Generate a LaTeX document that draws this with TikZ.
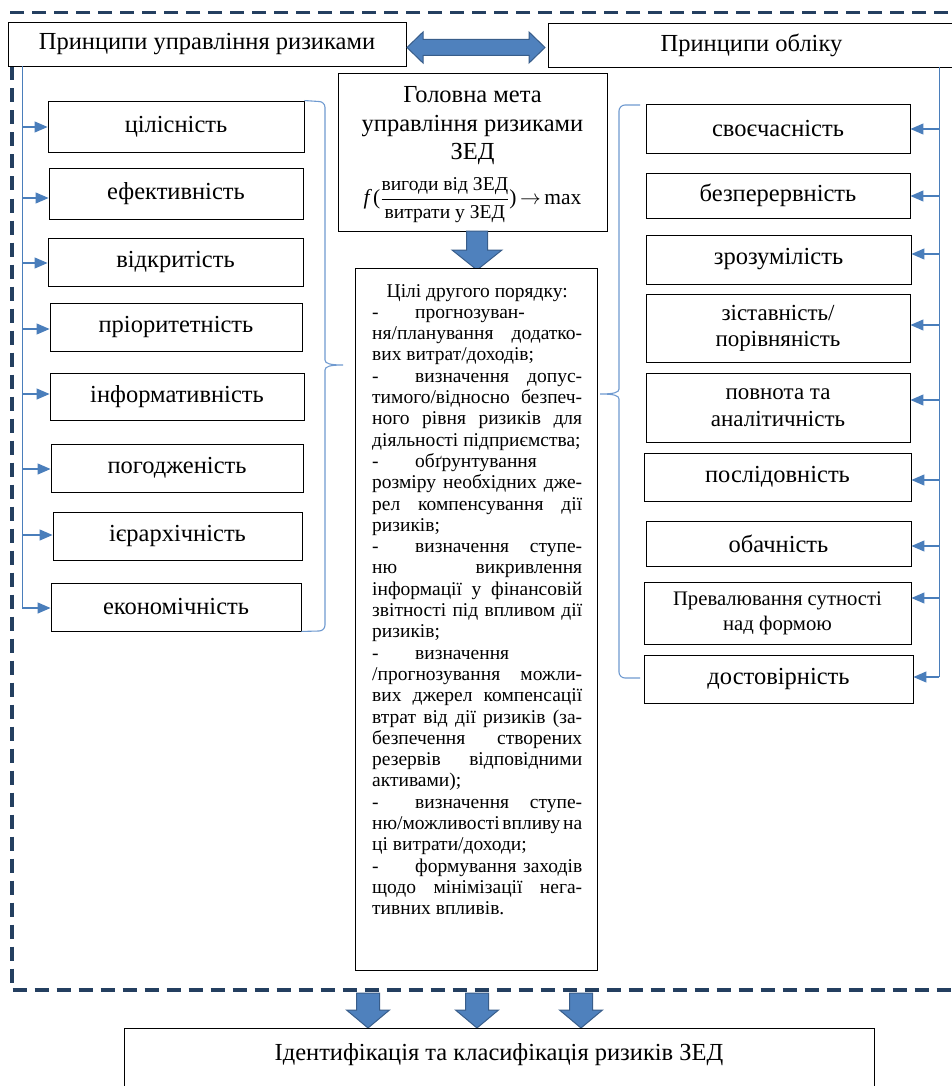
\documentclass[tikz,border=0pt]{standalone}
\usepackage{fontspec}
\setmainfont{Liberation Serif}
\usetikzlibrary{arrows.meta}
\definecolor{framecol}{HTML}{243F60}
\definecolor{conncol}{HTML}{4A7EBB}
\definecolor{bracecol}{HTML}{6F9AD0}
\definecolor{blockfill}{HTML}{4F81BD}
\definecolor{blockline}{HTML}{385D8A}
\newcommand{\gw}{\hskip 5pt plus 1fill minus 3pt}
\newcommand{\GoalJ}[1]{\hbox to 210pt{#1}}
\newcommand{\GoalN}[1]{\hbox to 210pt{#1\hfill}}
\newcommand{\GoalDJ}[1]{\hbox to 210pt{\hbox to 43pt{-\hfil}#1}}
\newcommand{\GoalDN}[1]{\hbox to 210pt{\hbox to 43pt{-\hfil}#1\hfill}}
\newcommand{\GoalC}[1]{\hbox to 260pt{\hfil#1\hfil}}
\tikzset{
  box/.style={draw=black, line width=0.9pt, fill=white, inner sep=2pt, align=center,
    font=\fontsize{24.5}{28.5}\selectfont},
  conn/.style={draw=conncol, line width=1.2pt, -{Triangle[length=13pt,width=11pt]}},
  vline/.style={draw=conncol, line width=1pt},
  brace/.style={draw=bracecol, line width=1.1pt},
  blockarrow/.style={fill=blockfill, draw=blockline, line width=1pt, line join=miter},
  frameline/.style={draw=framecol, line width=3.5pt, dash pattern=on 14pt off 8pt},
}
\begin{document}
\begin{tikzpicture}[x=1pt,y=-1pt]
\useasboundingbox (0,0) rectangle (952,1086);
\clip (0,0) rectangle (952,1086);
\fill[white] (0,0) rectangle (952,1086);

% dashed frame
\draw[frameline] (970,12.5) -- (12,12.5) -- (12,990) -- (970,990);

% top boxes
\node[box, minimum width=398pt, minimum height=44pt] (TL) at (207,44) {Принципи управління ризиками};
\node[box, minimum width=407pt, minimum height=44pt] (TR) at (751.5,45) {Принципи обліку};
\path[blockarrow] (407,47.5) -- (423,32) -- (423,39.5) -- (529,39.5) -- (529,32) -- (545,47.5)
  -- (529,63) -- (529,55.5) -- (423,55.5) -- (423,63) -- cycle;

% main goal
\node[box, minimum width=269pt, minimum height=158pt] (G) at (472.5,152) {};
\node[anchor=base, inner sep=0pt] (GT) at (472.5,103) {\vtop{%
  \fontsize{24.5}{28.5}\selectfont\lineskiplimit=-100pt
  \GoalC{Головна мета}
  \GoalC{управління ризиками}
  \GoalC{ЗЕД}
  \vskip 16pt
  \GoalC{\fontsize{21.5}{22}\selectfont{\itshape f}\,($\displaystyle\frac{\mbox{\fontsize{19.6}{20}\selectfont вигоди від ЗЕД}}{\mbox{\fontsize{19.6}{20}\selectfont витрати у ЗЕД}}$)\,$\rightarrow$\,max}
}};
\path[blockarrow] (466.5,231) -- (487.5,231) -- (487.5,250) -- (502,250) -- (477,270)
  -- (452,250) -- (466.5,250) -- cycle;

% second-order goals
\node[box, minimum width=242pt, minimum height=702pt] (S) at (476,619) {};
\node[anchor=base west, inner sep=0pt, align=left] (ST) at (372,297) {\vtop{%
\fontsize{19.5}{21.3}\selectfont\lineskiplimit=-100pt
\hbox to 210pt{\hfil Цілі другого порядку:\hfil}
\GoalDN{прогнозуван-}
\GoalJ{ня/планування\gw додатко-}
\GoalN{вих витрат/доходів;}
\GoalDJ{визначення\gw допус-}
\GoalJ{тимого/відносно\gw безпеч-}
\GoalJ{ного\gw рівня\gw ризиків\gw для}
\GoalN{діяльності підприємства;}
\GoalDN{обґрунтування}
\GoalJ{розміру\gw необхідних\gw дже-}
\GoalJ{рел\gw компенсування\gw дії}
\GoalN{ризиків;}
\GoalDJ{визначення\gw ступе-}
\GoalJ{ню\gw викривлення}
\GoalJ{інформації\gw у\gw фінансовій}
\GoalJ{звітності\gw під\gw впливом\gw дії}
\GoalN{ризиків;}
\GoalDN{визначення}
\GoalJ{/прогнозування\gw можли-}
\GoalJ{вих\gw джерел\gw компенсації}
\GoalJ{втрат\gw від\gw дії\gw ризиків\gw (за-}
\GoalJ{безпечення\gw створених}
\GoalJ{резервів\gw відповідними}
\GoalN{активами);}
\GoalDJ{визначення\gw ступе-}
\GoalJ{ню/можливості\gw впливу\gw на}
\GoalN{ці витрати/доходи;}
\GoalDJ{формування\gw заходів}
\GoalJ{щодо\gw мінімізації\gw нега-}
\GoalN{тивних впливів.}
}};

% left column
\node[box, minimum width=256pt, minimum height=51pt] (L1) at (176,126.5) {цілісність};
\node[box, minimum width=254pt, minimum height=51pt] (L2) at (176,193.5) {ефективність};
\node[box, minimum width=255pt, minimum height=48pt] (L3) at (175.5,262) {відкритість};
\node[box, minimum width=252pt, minimum height=48pt] (L4) at (176,327) {пріоритетність};
\node[box, minimum width=254pt, minimum height=47pt] (L5) at (177,396.5) {інформативність};
\node[box, minimum width=252pt, minimum height=48pt] (L6) at (177,468) {погодженість};
\node[box, minimum width=249pt, minimum height=48pt] (L7) at (177.5,536) {ієрархічність};
\node[box, minimum width=250pt, minimum height=48pt] (L8) at (176,607) {економічність};

\coordinate (lt) at (22,66);
\coordinate (la1) at (22,127);
\coordinate (la2) at (22,198);
\coordinate (la3) at (22,263);
\coordinate (la4) at (22,329);
\coordinate (la5) at (22,394);
\coordinate (la6) at (22,469);
\coordinate (la7) at (22,535);
\coordinate (la8) at (22,608);
\draw[vline] (lt) -- (la8);
\foreach \i in {1,...,8} \draw[conn] (la\i) -- (la\i -| L\i.west);

\draw[brace] (L1.north east) -- (319,101.5) to[out=0,in=90] (325,107.5) -- (325,360)
  .. controls (325,363.5) and (330,365) .. (343,365)
  .. controls (330,365) and (325,366.5) .. (325,370)
  -- (325,625) to[out=-90,in=0] (319,631) -- (L8.south east);

% right column
\node[box, minimum width=264pt, minimum height=49pt] (R1) at (778,128.5) {своєчасність};
\node[box, minimum width=264pt, minimum height=45pt] (R2) at (778,195.5) {безперервність};
\node[box, minimum width=265pt, minimum height=49pt] (R3) at (778.5,259.5) {зрозумілість};
\node[box, minimum width=264pt, minimum height=68pt, font=\fontsize{23}{26}\selectfont] (R4) at (778,328) {зіставність/\\порівняність};
\node[box, minimum width=264pt, minimum height=69pt, font=\fontsize{23}{27}\selectfont] (R5) at (778,407.5) {повнота та\\аналітичність};
\node[box, minimum width=267pt, minimum height=48pt] (R6) at (777.5,477) {послідовність};
\node[box, minimum width=265pt, minimum height=45pt] (R7) at (778.5,543.5) {обачність};
\node[box, minimum width=267pt, minimum height=62pt, font=\fontsize{20.7}{25}\selectfont] (R8) at (777.5,613) {Превалювання сутності\\над формою};
\node[box, minimum width=269pt, minimum height=48pt] (R9) at (778.5,679) {достовірність};

\coordinate (rt) at (939,67);
\coordinate (ra1) at (939,129);
\coordinate (ra2) at (939,196);
\coordinate (ra3) at (939,254);
\coordinate (ra4) at (939,325);
\coordinate (ra5) at (939,400);
\coordinate (ra6) at (939,480);
\coordinate (ra7) at (939,546);
\coordinate (ra8) at (939,598);
\coordinate (ra9) at (939,677);
\draw[vline] (rt) -- (ra9);
\foreach \i in {1,...,9} \draw[conn] (ra\i) -- (ra\i -| R\i.east);

\draw[brace] (640,105) -- (625,105) to[out=180,in=90] (619,111) -- (619,389)
  .. controls (619,392.5) and (614,394) .. (600,394)
  .. controls (614,394) and (619,395.5) .. (619,399)
  -- (619,672) to[out=-90,in=180] (625,678) -- (640,678);

% bottom
\foreach \cx in {368,477,581}
  \path[blockarrow] (\cx-11.5,993) -- (\cx+11.5,993) -- (\cx+11.5,1010) -- (\cx+21.5,1010)
    -- (\cx,1028) -- (\cx-21.5,1010) -- (\cx-11.5,1010) -- cycle;
\node[box, anchor=north, minimum width=750pt, inner ysep=14pt, text height=18pt, text depth=60pt] (B) at (499,1028) {Ідентифікація та класифікація ризиків ЗЕД};
\end{tikzpicture}
\end{document}
